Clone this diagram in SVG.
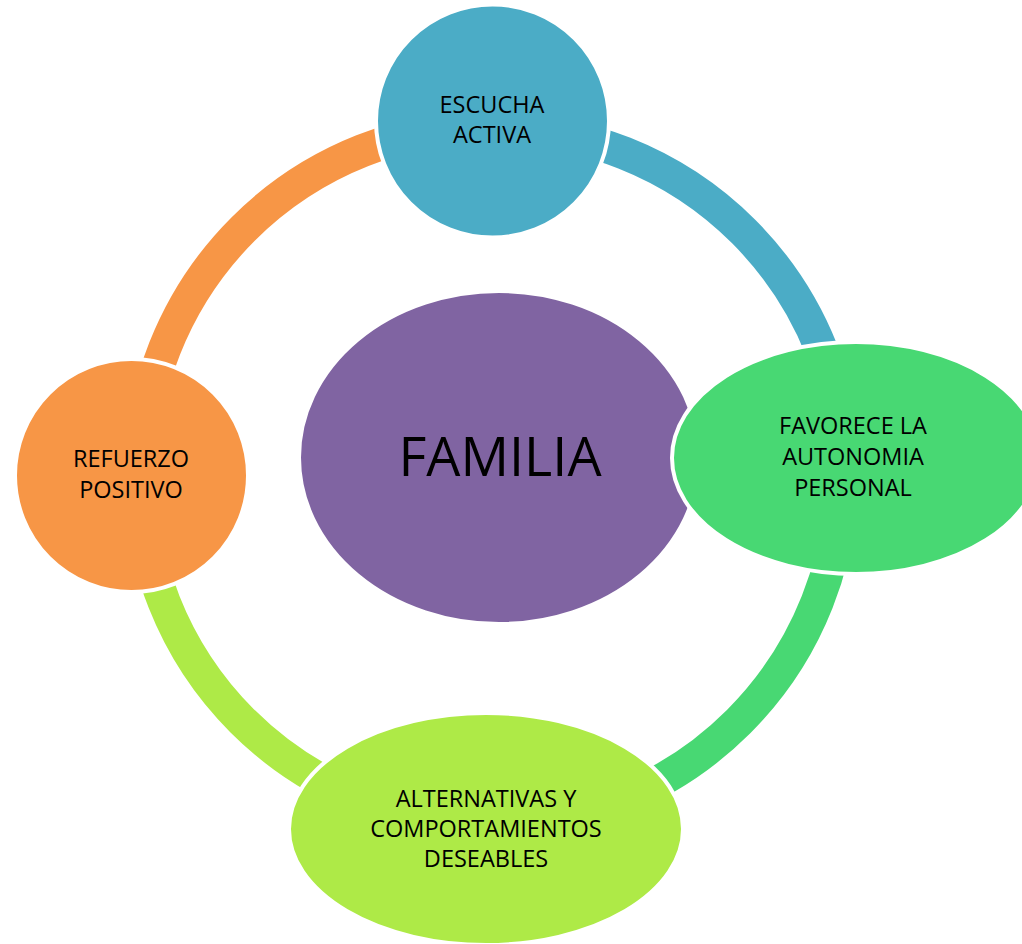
<svg xmlns="http://www.w3.org/2000/svg" width="1022" height="944" viewBox="0 0 1022 944">
<style>
.arc{fill:none;stroke-width:33;stroke-linecap:butt}
.node{stroke:#FFFFFF;stroke-width:4}
.t{font-family:"Open Sans","Liberation Sans",sans-serif;font-size:23.5px;fill:#000000;text-anchor:middle}
.big{font-family:"Open Sans","Liberation Sans",sans-serif;font-size:54px;fill:#000000;text-anchor:middle}
</style>
<rect width="1022" height="944" fill="#FFFFFF"/>
<g id="connectors">
<path class="arc" stroke="#4BACC6" d="M 495 128.5 A 351.5 351.5 0 0 1 846.5 480"/>
<path class="arc" stroke="#48D873" d="M 842 472 A 353 353 0 0 1 489 825"/>
<path class="arc" stroke="#AEEA47" d="M 490 823.5 A 350.5 350.5 0 0 1 139.5 473"/>
<path class="arc" stroke="#F79646" d="M 140 478 A 352 352 0 0 1 492 126"/>
</g>
<g id="familia">
<ellipse class="node" cx="499" cy="457.5" rx="200" ry="166.5" fill="#8064A2"/>
<text class="big" x="500" y="476">FAMILIA</text>
</g>
<g id="escucha">
<circle class="node" cx="492.5" cy="121" r="116.5" fill="#4BACC6"/>
<text class="t" x="492" y="113">ESCUCHA</text>
<text class="t" x="492" y="143">ACTIVA</text>
</g>
<g id="autonomia">
<ellipse class="node" cx="856" cy="458" rx="184" ry="116" fill="#48D873"/>
<text class="t" x="853" y="434">FAVORECE LA</text>
<text class="t" x="853" y="465">AUTONOMIA</text>
<text class="t" x="853" y="496">PERSONAL</text>
</g>
<g id="alternativas">
<ellipse class="node" cx="486" cy="829" rx="197" ry="116" fill="#AEEA47"/>
<text class="t" x="486" y="807">ALTERNATIVAS Y</text>
<text class="t" x="486" y="837">COMPORTAMIENTOS</text>
<text class="t" x="486" y="867">DESEABLES</text>
</g>
<g id="refuerzo">
<circle class="node" cx="131.5" cy="475.5" r="116.5" fill="#F79646"/>
<text class="t" x="131" y="467">REFUERZO</text>
<text class="t" x="131" y="498">POSITIVO</text>
</g>
</svg>
